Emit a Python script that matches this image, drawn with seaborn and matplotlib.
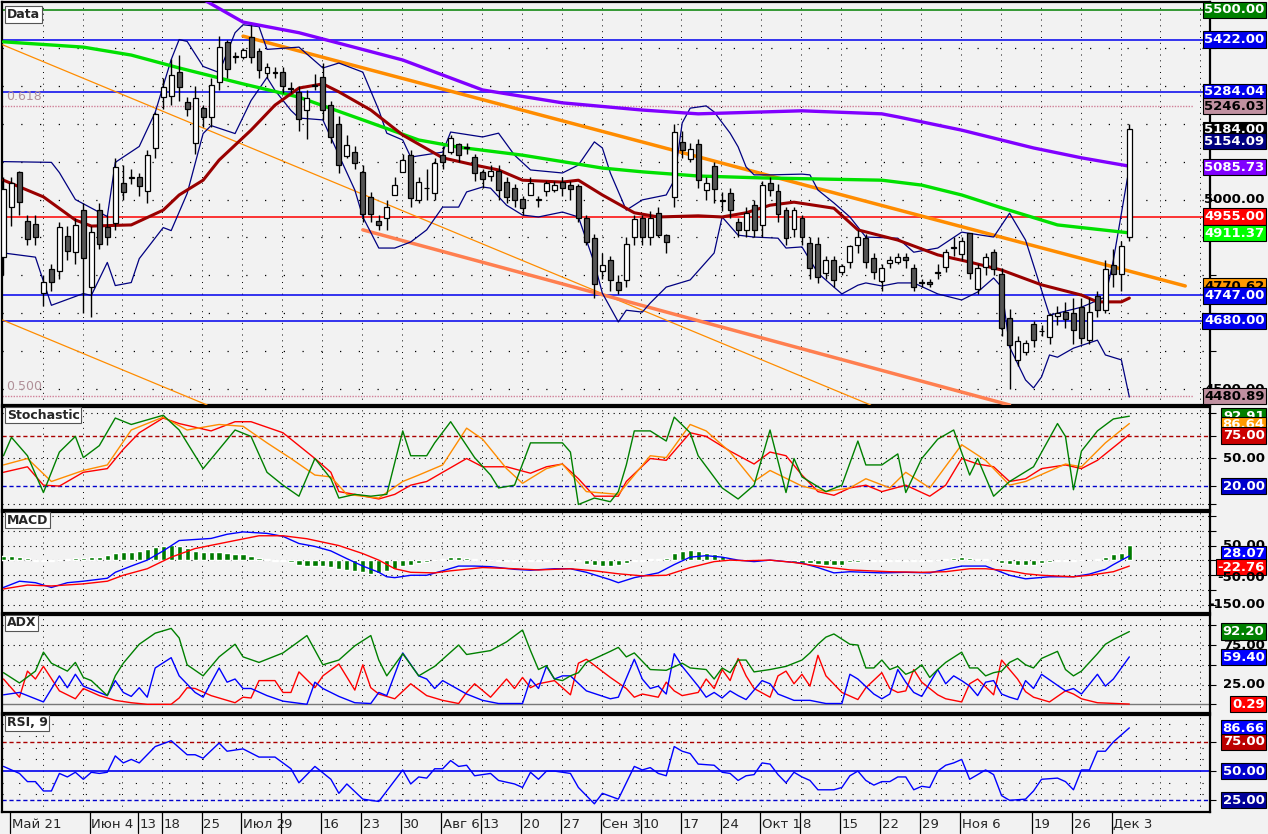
import matplotlib
matplotlib.use("Agg")
import matplotlib.pyplot as plt
import matplotlib.transforms as mtransforms
import seaborn as sns
import pandas as pd
import numpy as np

sns.set_style("white")
plt.rcParams['font.family'] = ['Liberation Sans Narrow', 'DejaVu Sans']

# ---------------- DATA ----------------
opens = [4848,4980,5070,4943,4933,4753,4814,4811,4901,4861,4972,4769,4970,4927,4938,5041,5057,5059,5022,5136,
         5270,5273,5336,5255,5149,5239,5218,5310,5413,5376,5376,5426,5389,5334,5334,5336,5292,5281,5236,5300,
         5321,5249,5197,5115,5125,5070,5004,4941,4951,5012,5073,5117,4999,5030,5017,5115,5125,5144,5136,5110,
         5070,5062,5075,5046,5028,4999,5012,4999,5022,5025,5046,5038,5033,4951,4898,4811,4840,4782,4788,4901,
         4949,4901,4964,4906,5007,5149,5107,5144,5025,5086,4996,5015,4938,4920,4985,4933,5043,5020,4970,4922,
         4949,4883,4880,4806,4838,4809,4835,4880,4898,4843,4785,4832,4835,4848,4817,4780,4780,4806,4822,4872,
         4856,4909,4764,4822,4859,4803,4685,4576,4598,4669,4653,4637,4694,4703,4700,4714,4629,4743,4708,4827,
         4803,4901]
closes = [5025,5041,4993,4896,4901,4780,4782,4925,4864,4930,4846,4912,4883,4901,5083,5020,5057,5036,5117,5223,
          5294,5328,5297,5239,5265,5218,5300,5402,5344,5376,5392,5376,5342,5347,5334,5299,5292,5212,5265,5300,
          5236,5165,5091,5141,5096,4962,4962,4933,4980,5038,5104,5004,5046,5030,5096,5099,5162,5117,5136,5070,
          5054,5075,5025,5007,4999,4978,5041,4999,5041,5038,5030,5028,4951,4888,4777,4827,4788,4761,4880,4946,
          4901,4949,4906,4888,5176,5131,5131,5051,5043,5028,4996,4972,4920,4964,4920,5038,5025,4962,4898,4970,
          4901,4819,4796,4840,4788,4822,4875,4899,4835,4809,4819,4838,4846,4840,4769,4780,4777,4806,4859,4872,
          4888,4806,4819,4846,4817,4661,4616,4624,4621,4629,4653,4693,4698,4685,4655,4634,4703,4708,4814,4803,
          4877,5184]
highs = [5060,5060,5075,4960,4960,4800,4830,4940,4930,4950,4990,4930,4990,4960,5110,5090,5080,5070,5130,5230,
         5320,5370,5380,5270,5300,5250,5320,5430,5420,5390,5400,5460,5400,5360,5350,5350,5310,5300,5290,5330,
         5360,5260,5220,5170,5140,5090,5020,4960,5000,5060,5120,5130,5060,5080,5110,5140,5170,5150,5150,5120,
         5080,5090,5090,5060,5040,5010,5060,5010,5050,5050,5060,5050,5040,4960,4910,4860,4850,4800,4900,4960,
         4960,4970,4980,4910,5200,5180,5150,5160,5060,5100,5020,5030,4950,4980,5000,5050,5060,5040,4980,4980,
         4960,4900,4900,4850,4850,4830,4880,4920,4910,4860,4830,4850,4860,4860,4830,4790,4790,4830,4870,4900,
         4900,4910,4830,4860,4870,4820,4710,4640,4630,4680,4670,4700,4720,4730,4740,4740,4740,4760,4840,4870,
         4890,5200]
lows = [4800,4930,4960,4880,4880,4720,4760,4790,4840,4830,4700,4690,4870,4880,4920,5000,5040,5010,4990,5110,
        5240,5250,5260,5220,5120,5190,5190,5290,5320,5360,5370,5360,5320,5320,5320,5280,5280,5180,5160,5290,
        5210,5150,5070,5110,5080,4940,4940,4920,4920,5020,5080,4980,4990,5000,5000,5080,5120,5100,5120,5050,
        5030,5050,5000,4990,4980,4960,5020,4980,5010,5020,5010,5000,4940,4880,4740,4790,4760,4750,4770,4880,
        4880,4880,4900,4860,4980,5110,5100,5030,5000,4990,4970,4950,4900,4900,4900,4900,5010,4940,4880,4900,
        4880,4790,4780,4790,4770,4800,4820,4860,4820,4790,4760,4820,4830,4820,4760,4770,4770,4790,4810,4850,
        4840,4790,4750,4800,4800,4640,4500,4560,4590,4610,4640,4620,4670,4660,4620,4620,4620,4690,4700,4770,
        4760,4890]

tick_pos = [1,11,17,20,25,30,35,40,45,50,55,60,65,70,75,80,85,90,95,100,105,110,115,120,129,134,139]
tick_labels = ["Май 21","Июн 4","13","18","25","Июл 2","9","16","23","30","Авг 6","13","20","27",
               "Сен 3","10","17","24","Окт 1","8","15","22","29","Ноя 6","19","26","Дек 3"]

ma_purple = [(24,5540),(30,5468),(37,5440),(50,5368),(60,5289),(70,5255),(80,5236),(87,5226),(100,5234),
             (110,5226),(112,5218),(120,5183),(129,5136),(135,5110),(141,5088)]
ma_green = [(0,5416),(10,5402),(16,5381),(22,5347),(30,5305),(37,5270),(45,5210),(52,5157),(57,5138),(65,5117),
            (75,5083),(80,5073),(87,5062),(95,5057),(110,5051),(115,5038),(120,5012),(125,4978),(132,4933),(141,4912)]
ma_red = [(0,5051),(5,5007),(9,4946),(11,4930),(16,4933),(20,4972),(22,5012),(25,5051),(27,5104),(31,5183),
          (34,5249),(37,5294),(40,5305),(42,5284),(46,5236),(50,5170),(55,5110),(59,5091),(62,5078),(65,5051),
          (70,5046),(72,5051),(75,5012),(79,4965),(82,4954),(87,4957),(90,4954),(93,4965),(96,4985),(99,4993),
          (104,4977),(107,4920),(112,4893),(117,4854),(121,4835),(125,4814),(130,4775),(135,4748),(137,4730),
          (140,4730),(141,4740)]
bb_upper = [(0,5100),(6,5098),(7,5071),(9,5000),(13,4955),(14,5098),(17,5140),(19,5230),(21,5369),(22,5422),
            (23,5417),(25,5351),(27,5335),(29,5440),(30,5461),(32,5456),(33,5396),(37,5402),(40,5347),(42,5360),
            (45,5336),(47,5236),(48,5175),(50,5157),(51,5112),(55,5125),(56,5178),(60,5165),(62,5175),(64,5117),
            (66,5078),(70,5070),(72,5091),(74,5152),(75,5136),(76,5070),(78,4972),(80,4999),(83,5012),(84,5051),
            (85,5202),(86,5241),(88,5247),(89,5231),(91,5175),(92,5139),(93,5086),(94,5065),(96,5065),(100,5067),
            (101,5065),(102,5025),(104,4991),(106,4954),(108,4901),(112,4898),(114,4861),(117,4872),(120,4914),
            (124,4901),(126,4964),(128,4893),(131,4695),(135,4716),(138,4743),(139,4840),(141,5086)]
bb_lower = [(0,4859),(4,4848),(6,4721),(10,4752),(11,4747),(13,4834),(14,4773),(16,4781),(17,4844),(20,4926),
            (21,4918),(23,5016),(25,5174),(26,5195),(29,5174),(31,5261),(33,5322),(34,5288),(36,5235),(37,5215),
            (40,5210),(42,5117),(44,5025),(45,4954),(47,4872),(49,4872),(51,4888),(53,4920),(55,4980),(57,4980),
            (58,5020),(60,5033),(61,5030),(63,4985),(65,4959),(67,4954),(70,4967),(72,4954),(74,4832),(75,4753),
            (77,4677),(78,4708),(80,4703),(81,4727),(83,4769),(86,4788),(89,4859),(90,4954),(92,4906),(94,4901),
            (97,4898),(98,4872),(100,4875),(102,4806),(104,4769),(105,4751),(107,4774),(108,4780),(110,4772),
            (112,4780),(114,4780),(117,4751),(120,4735),(122,4756),(124,4793),(125,4769),(126,4611),(128,4524),
            (129,4503),(130,4532),(131,4590),(132,4584),(134,4608),(137,4629),(138,4590),(140,4577),(141,4479)]
trend_thick_orange = [(30,5431),(148,4772)]
trend_thin_orange1 = [(-0.1,5408),(108.6,4458)]
trend_thin_orange2 = [(-0.1,4682),(25.5,4458)]
trend_salmon = [(45,4920),(126,4458)]
hlines_main = [(5500,'#008000'),(5422,'#0000ee'),(5284.04,'#0000ee'),(4955,'#ff0000'),(4747,'#0000ee'),(4680,'#0000ee')]
fib_levels = [(5246.03,"0.618"),(4480.89,"0.500")]

stoch_green = [(0,53),(1,73),(3,53),(5,13),(7,57),(9,74),(10,51),(12,64),(14,94),(16,87),(18,92),(20,97),(22,81),
               (25,39),(27,60),(29,81),(31,74),(33,35),(35,21),(37,9),(39,50),(41,28),(42,7),(44,11),(46,9),(48,11),
               (50,80),(51,53),(53,53),(54,67),(56,90),(58,64),(59,51),(61,32),(62,18),(64,21),(66,67),(68,67),
               (70,67),(71,57),(72,0),(74,7),(76,3),(77,14),(78,43),(79,80),(81,80),(83,69),(84,95),(86,78),(87,53),
               (90,18),(92,6),(94,21),(96,81),(98,13),(99,50),(100,30),(103,14),(105,21),(107,69),(108,43),(110,43),
               (112,55),(113,13),(115,50),(117,71),(119,81),(121,32),(122,50),(124,9),(126,25),(129,41),(132,88),
               (133,74),(134,16),(135,58),(137,80),(139,93),(141,96)]
stoch_orange = [(0,43),(3,50),(6,25),(10,37),(13,43),(16,81),(20,95),(23,81),(27,87),(30,85),(33,67),(36,50),
                (39,32),(41,30),(43,11),(47,7),(50,25),(52,32),(55,43),(58,83),(60,71),(63,39),(65,23),(68,39),
                (70,44),(73,14),(77,11),(81,53),(83,51),(86,87),(88,80),(91,57),(94,25),(96,37),(100,20),(103,14),
                (106,18),(108,28),(111,18),(113,35),(116,18),(120,65),(123,48),(126,21),(128,25),(133,44),(135,41),
                (138,67),(141,88)]
stoch_red = [(0,35),(3,41),(5,21),(7,20),(10,35),(13,39),(15,60),(17,78),(20,94),(22,88),(26,80),(29,90),(31,90),
             (35,78),(37,64),(39,50),(41,35),(42,14),(44,11),(47,6),(49,11),(51,21),(53,25),(55,35),(58,50),(60,41),
             (63,41),(66,34),(68,41),(70,44),(72,28),(74,9),(77,9),(78,25),(81,50),(83,48),(86,78),(88,74),(91,58),
             (94,44),(96,57),(98,53),(100,32),(102,14),(104,10),(106,18),(108,21),(110,14),(113,21),(116,9),(118,21),
             (120,50),(122,44),(124,41),(126,25),(128,28),(130,39),(133,43),(135,39),(137,48),(139,62),(141,76)]

macd_hist = [14,14,13,8,0,0,0,3,5,7,8,10,12,17,25,28,30,33,38,45,50,52,48,42,33,29,30,28,26,23,20,14,8,4,0,
             -2,-5,-15,-18,-18,-20,-22,-28,-32,-35,-40,-45,-44,-35,-28,-18,-15,-10,-5,2,4,10,12,8,6,3,1,0,-2,-1,
             0,0,-1,0,1,0,-1,-3,-12,-16,-18,-20,-16,-10,-2,0,5,6,8,25,32,35,32,25,20,15,8,4,2,1,0,0,-3,-5,-6,-8,
             -10,-12,-15,-17,-16,-5,-4,-3,-3,-2,-2,0,-1,-1,-1,0,2,5,8,10,8,6,5,3,-8,-12,-14,-15,-15,-10,-5,-2,0,
             0,2,3,5,12,20,25,53]
macd_blue = [(0,-91),(2,-70),(4,-75),(6,-91),(8,-75),(10,-70),(13,-60),(14,-40),(16,-19),(18,1),(20,32),(22,67),
             (26,74),(28,88),(30,96),(33,91),(35,81),(37,57),(39,47),(41,32),(43,6),(45,-19),(47,-40),(48,-55),
             (49,-58),(51,-50),(53,-50),(55,-35),(57,-19),(59,-19),(61,-21),(64,-30),(66,-33),(69,-28),(71,-28),
             (73,-40),(76,-65),(77,-75),(79,-58),(82,-42),(84,-14),(86,11),(88,16),(90,11),(92,1),(94,-4),(96,1),
             (98,-4),(100,-9),(102,-24),(104,-42),(106,-38),(110,-42),(113,-40),(116,-42),(118,-30),(120,-19),
             (123,-19),(126,-50),(128,-62),(131,-55),(134,-55),(136,-46),(138,-30),(139,-14),(141,15)]
macd_red = [(0,-96),(3,-83),(6,-86),(10,-79),(13,-70),(15,-50),(18,-28),(21,11),(24,40),(29,67),(32,83),(35,83),
            (38,73),(42,50),(45,23),(47,1),(49,-28),(51,-40),(54,-42),(56,-35),(60,-24),(64,-28),(67,-32),(71,-28),
            (74,-35),(77,-45),(80,-52),(83,-50),(86,-24),(89,-4),(91,1),(93,-1),(96,1),(99,-7),(102,-19),(106,-32),
            (111,-38),(115,-40),(118,-38),(121,-28),(123,-28),(126,-35),(128,-45),(130,-50),(134,-55),(136,-50),
            (139,-38),(141,-19)]

adx_green = [(0,40),(2,27),(4,42),(5,66),(6,52),(8,42),(9,53),(10,34),(11,30),(13,11),(14,36),(15,52),(17,76),
             (19,90),(21,96),(22,84),(23,50),(25,36),(27,60),(29,76),(30,60),(32,53),(35,65),(38,87),(40,50),(42,56),
             (44,74),(46,87),(47,56),(48,36),(50,64),(52,36),(54,48),(57,75),(58,63),(61,68),(63,79),(65,94),(66,68),
             (67,44),(68,49),(69,32),(70,30),(71,36),(72,40),(73,53),(76,67),(77,72),(78,60),(79,65),(81,44),(83,43),
             (85,52),(86,46),(88,44),(89,32),(90,46),(91,40),(92,56),(93,56),(94,41),(96,44),(98,48),(100,56),
             (101,65),(102,76),(103,85),(104,89),(106,76),(107,75),(108,46),(109,46),(110,56),(111,44),(112,48),
             (113,38),(114,42),(115,50),(116,34),(117,44),(118,53),(120,66),(121,46),(122,46),(123,36),(124,40),
             (125,42),(126,53),(127,58),(128,50),(129,46),(130,58),(132,67),(133,44),(134,36),(135,42),(137,64),
             (138,76),(139,82),(141,92)]
adx_blue = [(0,12),(2,15),(5,3),(7,36),(8,21),(9,38),(10,23),(12,15),(13,11),(14,30),(15,15),(16,10),(17,21),
            (18,9),(19,46),(21,59),(22,36),(24,15),(25,9),(27,46),(28,28),(29,32),(30,20),(31,20),(33,11),(35,4),
            (38,0),(39,28),(40,20),(42,10),(44,2),(46,1),(47,15),(48,11),(50,65),(52,36),(53,32),(54,20),(55,30),
            (58,13),(60,5),(62,1),(65,1),(66,32),(67,20),(68,48),(69,32),(70,36),(71,36),(73,17),(76,7),(77,9),
            (79,57),(80,32),(81,20),(82,23),(83,13),(84,64),(85,48),(87,23),(88,9),(89,15),(90,8),(91,17),(92,11),
            (93,6),(95,30),(96,26),(97,13),(99,5),(101,5),(103,1),(105,1),(106,38),(107,32),(109,13),(110,7),
            (111,13),(112,44),(113,28),(114,15),(115,10),(117,44),(118,26),(119,36),(120,30),(121,23),(122,11),
            (123,28),(124,30),(125,13),(126,9),(127,6),(128,30),(129,20),(130,38),(132,24),(133,17),(134,20),
            (135,13),(137,38),(138,23),(139,32),(141,60)]
adx_red = [(0,32),(2,9),(3,42),(4,32),(5,48),(7,17),(9,7),(10,20),(12,11),(14,5),(16,2),(18,0),(21,0),(22,8),
           (23,21),(24,20),(26,11),(28,5),(29,2),(30,9),(31,8),(32,30),(34,30),(35,15),(36,15),(37,41),(39,21),
           (40,36),(42,51),(44,18),(45,50),(46,21),(47,13),(49,7),(51,26),(53,11),(55,5),(57,1),(58,15),(59,26),
           (61,9),(63,32),(64,20),(65,34),(66,21),(67,26),(69,30),(71,12),(72,52),(73,57),(76,34),(78,20),(79,9),
           (80,13),(82,9),(83,28),(84,17),(85,11),(87,15),(88,32),(89,20),(90,44),(91,30),(92,58),(93,36),(94,20),
           (96,9),(97,36),(98,42),(99,26),(100,38),(101,23),(102,62),(103,36),(105,15),(107,6),(108,21),(110,40),
           (111,20),(112,15),(113,17),(114,44),(115,28),(117,12),(118,7),(120,3),(121,26),(122,32),(124,12),
           (125,56),(127,32),(128,16),(129,9),(131,3),(133,17),(134,13),(135,7),(137,2),(141,0.3)]

rsi = [(0,54),(1,51),(2,48),(3,41),(4,41),(5,33),(6,33),(7,48),(8,45),(9,49),(10,43),(11,49),(12,48),(13,49),
       (14,63),(15,57),(16,60),(17,57),(18,64),(19,71),(21,76),(23,64),(24,64),(25,61),(27,74),(28,67),(30,69),
       (32,62),(34,62),(36,52),(37,40),(39,54),(41,43),(42,31),(43,39),(45,26),(47,24),(50,51),(51,39),(52,45),
       (53,44),(54,52),(55,52),(56,59),(57,54),(58,55),(59,46),(61,48),(62,42),(64,39),(65,36),(66,49),(67,43),
       (68,50),(69,50),(71,48),(72,36),(74,22),(75,31),(77,26),(79,54),(80,51),(81,53),(82,48),(83,46),(84,71),
       (85,67),(86,65),(87,56),(89,55),(90,49),(91,48),(92,42),(93,46),(94,47),(95,57),(96,56),(97,47),(98,40),
       (99,49),(100,45),(101,42),(102,34),(103,34),(104,34),(105,36),(106,46),(107,50),(108,42),(109,38),
       (110,41),(111,41),(112,45),(113,45),(114,34),(115,37),(116,36),(117,50),(118,55),(119,57),(120,60),
       (121,43),(123,51),(124,47),(125,29),(126,25),(128,26),(129,33),(130,43),(132,44),(133,41),(134,34),
       (135,51),(136,51),(137,67),(138,67),(139,75),(141,87)]

# ---------------- FIGURE ----------------
BG = '#f2f2f2'
fig = plt.figure(figsize=(12.68, 8.34), dpi=100, facecolor=BG)
W = 1210/1268
def mk(top, bot):
    return fig.add_axes([0.0015, 1-bot/834, W-0.0015, (bot-top)/834], facecolor=BG)
ax_m = mk(2, 405)
ax_s = mk(407, 510)
ax_d = mk(512, 613)
ax_a = mk(615, 713)
ax_r = mk(715, 812)
axes = [ax_m, ax_s, ax_d, ax_a, ax_r]
XMIN, XMAX = -0.2, 151.1
n = len(opens)
idx = np.arange(n)
grid_x = [4.9 + 5 * k for k in range(30)]

for ax in axes:
    ax.set_xlim(XMIN, XMAX)
    for s in ax.spines.values():
        s.set_color('black'); s.set_linewidth(1.6)
    ax.yaxis.tick_right()
    ax.tick_params(axis='y', direction='out', length=4, labelright=False, right=True, left=False, color='black')
    ax.tick_params(axis='x', bottom=False, labelbottom=False)
    for t in grid_x:
        ax.axvline(t, color='black', ls=(0, (1, 5)), lw=0.7, zorder=0)

LBLFONT = ['DejaVu Sans Condensed', 'Liberation Sans Narrow', 'DejaVu Sans']
def lbl_box(ax, txt, y, fc, tc='white'):
    tr = mtransforms.blended_transform_factory(ax.transAxes, ax.transData)
    ax.text(1.0452, y, txt, transform=tr, ha='right', va='center', fontsize=9.5, fontweight='bold',
            color=tc, clip_on=False, family=LBLFONT,
            bbox=dict(boxstyle='square,pad=0.12', fc=fc, ec='black', lw=0.8) if fc else None, zorder=10)

def panel_title(ax, txt):
    ax.text(0.004, 0.985, txt, transform=ax.transAxes, ha='left', va='top', fontsize=9, fontweight='bold',
            family=LBLFONT, bbox=dict(boxstyle='square,pad=0.15', fc='white', ec='#555555', lw=0.8), zorder=10)

def spl(pairs):
    return pd.DataFrame(pairs, columns=['i', 'v'])

# ---- main price panel ----
ax_m.set_ylim(4458, 5521)
ax_m.set_yticks([4500, 4600, 4700, 4800, 4900, 5000, 5100, 5200, 5300, 5400])
for v in [4500, 4600, 4700, 4800, 4900, 5000, 5100, 5200, 5300, 5400]:
    ax_m.axhline(v, color='black', ls=(0, (1, 14)), lw=0.9, zorder=0)
for v, c in hlines_main:
    ax_m.axhline(v, color=c, lw=1.1, zorder=2)
for v, t in fib_levels:
    ax_m.plot([XMIN, 149], [v, v], color='#d08098', lw=1.0, ls=(0, (1, 1)), zorder=2)
    ax_m.text(0.3, v + 8, t, color='#b09098', fontsize=9, ha='left', va='bottom', family=['DejaVu Sans'])

for pts, c, lw in [(trend_thin_orange1, '#ff8c00', 0.9), (trend_thin_orange2, '#ff8c00', 0.9),
                   (trend_salmon, '#ff7f50', 2.5), (trend_thick_orange, '#ff8c00', 2.5)]:
    d = spl(pts)
    ax_m.plot(d['i'], d['v'], color=c, lw=lw, zorder=3)

for pts, c, lw in [(bb_upper, '#000080', 0.9), (bb_lower, '#000080', 0.9), (ma_green, '#00e000', 2.4),
                   (ma_purple, '#8000ff', 2.4), (ma_red, '#990000', 2.2)]:
    d = spl(pts)
    sns.lineplot(data=d, x='i', y='v', ax=ax_m, color=c, lw=lw, zorder=4, legend=False)

o = np.array(opens); c_ = np.array(closes)
up = c_ >= o
ax_m.vlines(idx, lows, highs, color='black', lw=1.0, zorder=5)
ax_m.bar(idx, np.abs(c_ - o) + 1.5, bottom=np.minimum(o, c_), width=0.62,
         color=np.where(up, 'white', '#555555'), edgecolor='black', lw=0.9, zorder=6)
ax_m.set_xlabel(''); ax_m.set_ylabel('')
panel_title(ax_m, 'Data')

main_labels = [("5500.00", 5500, '#008000'), ("5422.00", 5422, '#0000ee'), ("5284.04", 5284.04, '#0000ee'),
               ("5246.03", 5246.03, '#c090a0'), ("5184.00", 5184, 'black'), ("5154.09", 5154.09, '#000080'),
               ("5085.73", 5085.73, '#8000ff'), ("5000.00", 5000, None), ("4955.00", 4955, '#ff0000'),
               ("4911.37", 4911.37, '#00ff00'), ("4770.62", 4770.62, '#ff9900'), ("4747.00", 4747, '#0000ee'),
               ("4680.00", 4680, '#0000ee'), ("4500.00", 4500, None), ("4480.89", 4480.89, '#c090a0')]
for t, v, fc in main_labels:
    tc = 'black' if fc in (None, '#c090a0', '#ff9900') else 'white'
    lbl_box(ax_m, t, v, fc, tc)

# ---- stochastic ----
ax_s.set_ylim(-6, 106)
ax_s.set_yticks([0, 20, 50, 75, 100])
for v in [0, 50, 100]:
    ax_s.axhline(v, color='black', ls=(0, (1, 4)), lw=0.8, zorder=0)
ax_s.axhline(75, color='#aa0000', ls=(0, (3, 2)), lw=1.0)
ax_s.axhline(20, color='#0000cc', ls=(0, (3, 2)), lw=1.0)
for pts, c in [(stoch_red, '#ff0000'), (stoch_orange, '#ff8c00'), (stoch_green, '#008000')]:
    sns.lineplot(data=spl(pts), x='i', y='v', ax=ax_s, color=c, lw=1.0, legend=False)
ax_s.set_xlabel(''); ax_s.set_ylabel('')
panel_title(ax_s, 'Stochastic')
lbl_box(ax_s, "92.91", 96, '#008000')
lbl_box(ax_s, "86.64", 86.64, '#ff9900', 'white')
lbl_box(ax_s, "75.00", 75, '#cc0000')
lbl_box(ax_s, "50.00", 50, None, 'black')
lbl_box(ax_s, "20.00", 20, '#0000cc')

# ---- MACD ----
ax_d.set_ylim(-177, 163)
ax_d.set_yticks([-150, -100, -50, 0, 50, 100, 150])
for v in [-150, -100, -50, 0, 50, 100, 150]:
    ax_d.axhline(v, color='black', ls=(0, (1, 4)), lw=0.8, zorder=0)
hist = np.array(macd_hist, dtype=float)
ax_d.bar(idx, np.where(hist == 0, 1.5, hist), bottom=np.where(hist == 0, -0.75, 0), width=0.65,
         color='#007a00', zorder=3)
for pts, c in [(macd_blue, '#0000ff'), (macd_red, '#ff0000')]:
    sns.lineplot(data=spl(pts), x='i', y='v', ax=ax_d, color=c, lw=1.0, legend=False, zorder=4)
ax_d.set_xlabel(''); ax_d.set_ylabel('')
panel_title(ax_d, 'MACD')
lbl_box(ax_d, "50.00", 50, None, 'black')
lbl_box(ax_d, "28.07", 22, '#0000ff')
lbl_box(ax_d, "-22.76", -22.76, '#ff0000')
lbl_box(ax_d, "-50.00", -57, None, 'black')
lbl_box(ax_d, "-150.00", -150, None, 'black')

# ---- ADX ----
ax_a.set_ylim(-11, 113)
ax_a.set_yticks([0, 25, 50, 75, 100])
for v in [25, 50, 75, 100]:
    ax_a.axhline(v, color='black', ls=(0, (1, 4)), lw=0.8, zorder=0)
ax_a.axhline(0, color='#777777', lw=1.0)
for pts, c in [(adx_red, '#ff0000'), (adx_blue, '#0000ff'), (adx_green, '#008000')]:
    sns.lineplot(data=spl(pts), x='i', y='v', ax=ax_a, color=c, lw=1.0, legend=False)
ax_a.set_xlabel(''); ax_a.set_ylabel('')
panel_title(ax_a, 'ADX')
lbl_box(ax_a, "92.20", 92.2, '#008000')
lbl_box(ax_a, "75.00", 75, None, 'black')
lbl_box(ax_a, "59.40", 59.4, '#0000ff')
lbl_box(ax_a, "25.00", 25, None, 'black')
lbl_box(ax_a, "0.29", 0.29, '#ff0000')

# ---- RSI ----
ax_r.set_ylim(15, 98)
ax_r.set_yticks([25, 50, 75])
for v in [30, 40, 60, 70, 80, 90]:
    ax_r.axhline(v, color='black', ls=(0, (1, 14)), lw=0.8, zorder=0)
ax_r.axhline(75, color='#aa0000', ls=(0, (3, 2)), lw=1.0)
ax_r.axhline(50, color='#0000ee', lw=1.2)
ax_r.axhline(25, color='#0000cc', ls=(0, (3, 2)), lw=1.0)
sns.lineplot(data=spl(rsi), x='i', y='v', ax=ax_r, color='#0000ff', lw=1.0, legend=False)
ax_r.set_xlabel(''); ax_r.set_ylabel('')
panel_title(ax_r, 'RSI, 9')
lbl_box(ax_r, "86.66", 86.66, '#0000ff')
lbl_box(ax_r, "75.00", 75, '#bb0000')
lbl_box(ax_r, "50.00", 50, '#0000cc')
lbl_box(ax_r, "25.00", 25, '#000099')

# ---- date axis ----
trx = mtransforms.blended_transform_factory(ax_r.transData, ax_r.transAxes)
for t, lab in zip(tick_pos, tick_labels):
    ax_r.plot([t - 0.2, t - 0.2], [0, -0.22], transform=trx, color='black', lw=0.9, clip_on=False)
    ax_r.annotate(lab, xy=(t - 0.2, 0), xycoords=('data', 'axes fraction'), xytext=(1.2, -4),
                  textcoords='offset points', ha='left', va='top', fontsize=9.5, family=LBLFONT)

fig.savefig('out.png', dpi=100, facecolor=BG)
